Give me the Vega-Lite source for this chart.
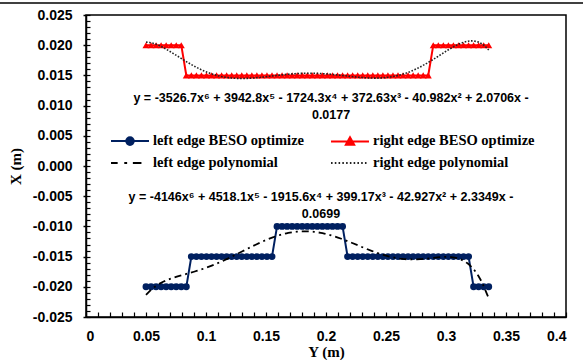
{
  "$schema": "https://vega.github.io/schema/vega-lite/v6.json",
  "autosize": "none",
  "width": 480,
  "height": 302,
  "padding": {"left": 86, "top": 15, "right": 17, "bottom": 43},
  "background": "white",
  "config": {
    "view": {"stroke": "black", "strokeWidth": 1.5},
    "locale": {"number": {"decimal": ".", "thousands": ",", "grouping": [3], "currency": ["$", ""], "minus": "-"}}
  },
  "datasets": {
    "edges": [
      {"Y": 0.05, "left": -0.02, "right": 0.02},
      {"Y": 0.0542, "left": -0.02, "right": 0.02},
      {"Y": 0.0584, "left": -0.02, "right": 0.02},
      {"Y": 0.0626, "left": -0.02, "right": 0.02},
      {"Y": 0.0668, "left": -0.02, "right": 0.02},
      {"Y": 0.071, "left": -0.02, "right": 0.02},
      {"Y": 0.0752, "left": -0.02, "right": 0.02},
      {"Y": 0.0794, "left": -0.02, "right": 0.02},
      {"Y": 0.0836, "left": -0.02, "right": 0.015},
      {"Y": 0.0878, "left": -0.015, "right": 0.015},
      {"Y": 0.092, "left": -0.015, "right": 0.015},
      {"Y": 0.0962, "left": -0.015, "right": 0.015},
      {"Y": 0.1004, "left": -0.015, "right": 0.015},
      {"Y": 0.1046, "left": -0.015, "right": 0.015},
      {"Y": 0.1088, "left": -0.015, "right": 0.015},
      {"Y": 0.113, "left": -0.015, "right": 0.015},
      {"Y": 0.1172, "left": -0.015, "right": 0.015},
      {"Y": 0.1214, "left": -0.015, "right": 0.015},
      {"Y": 0.1256, "left": -0.015, "right": 0.015},
      {"Y": 0.1298, "left": -0.015, "right": 0.015},
      {"Y": 0.134, "left": -0.015, "right": 0.015},
      {"Y": 0.1382, "left": -0.015, "right": 0.015},
      {"Y": 0.1424, "left": -0.015, "right": 0.015},
      {"Y": 0.1466, "left": -0.015, "right": 0.015},
      {"Y": 0.1508, "left": -0.015, "right": 0.015},
      {"Y": 0.155, "left": -0.015, "right": 0.015},
      {"Y": 0.1592, "left": -0.01, "right": 0.015},
      {"Y": 0.1634, "left": -0.01, "right": 0.015},
      {"Y": 0.1676, "left": -0.01, "right": 0.015},
      {"Y": 0.1718, "left": -0.01, "right": 0.015},
      {"Y": 0.176, "left": -0.01, "right": 0.015},
      {"Y": 0.1802, "left": -0.01, "right": 0.015},
      {"Y": 0.1844, "left": -0.01, "right": 0.015},
      {"Y": 0.1886, "left": -0.01, "right": 0.015},
      {"Y": 0.1928, "left": -0.01, "right": 0.015},
      {"Y": 0.197, "left": -0.01, "right": 0.015},
      {"Y": 0.2012, "left": -0.01, "right": 0.015},
      {"Y": 0.2054, "left": -0.01, "right": 0.015},
      {"Y": 0.2096, "left": -0.01, "right": 0.015},
      {"Y": 0.2138, "left": -0.01, "right": 0.015},
      {"Y": 0.218, "left": -0.015, "right": 0.015},
      {"Y": 0.2222, "left": -0.015, "right": 0.015},
      {"Y": 0.2264, "left": -0.015, "right": 0.015},
      {"Y": 0.2306, "left": -0.015, "right": 0.015},
      {"Y": 0.2348, "left": -0.015, "right": 0.015},
      {"Y": 0.239, "left": -0.015, "right": 0.015},
      {"Y": 0.2432, "left": -0.015, "right": 0.015},
      {"Y": 0.2474, "left": -0.015, "right": 0.015},
      {"Y": 0.2516, "left": -0.015, "right": 0.015},
      {"Y": 0.2558, "left": -0.015, "right": 0.015},
      {"Y": 0.26, "left": -0.015, "right": 0.015},
      {"Y": 0.2642, "left": -0.015, "right": 0.015},
      {"Y": 0.2684, "left": -0.015, "right": 0.015},
      {"Y": 0.2726, "left": -0.015, "right": 0.015},
      {"Y": 0.2768, "left": -0.015, "right": 0.015},
      {"Y": 0.281, "left": -0.015, "right": 0.015},
      {"Y": 0.2852, "left": -0.015, "right": 0.015},
      {"Y": 0.2894, "left": -0.015, "right": 0.02},
      {"Y": 0.2936, "left": -0.015, "right": 0.02},
      {"Y": 0.2978, "left": -0.015, "right": 0.02},
      {"Y": 0.302, "left": -0.015, "right": 0.02},
      {"Y": 0.3062, "left": -0.015, "right": 0.02},
      {"Y": 0.3104, "left": -0.015, "right": 0.02},
      {"Y": 0.3146, "left": -0.015, "right": 0.02},
      {"Y": 0.3188, "left": -0.015, "right": 0.02},
      {"Y": 0.323, "left": -0.02, "right": 0.02},
      {"Y": 0.3272, "left": -0.02, "right": 0.02},
      {"Y": 0.3314, "left": -0.02, "right": 0.02},
      {"Y": 0.3356, "left": -0.02, "right": 0.02}
    ],
    "legend": [
      {"series": "left edge BESO optimize"},
      {"series": "left edge polynomial"},
      {"series": "right edge BESO optimize"},
      {"series": "right edge polynomial"}
    ]
  },
  "resolve": {"axis": {"x": "independent", "y": "independent"}},
  "layer": [
    {
      "data": {"name": "edges"},
      "mark": {"type": "line", "color": "#002060", "strokeWidth": 2},
      "encoding": {
        "x": {"field": "Y", "type": "quantitative", "scale": {"domain": [0, 0.4], "nice": false},
          "axis": {"orient": "bottom", "values": [0, 0.05, 0.1, 0.15, 0.2, 0.25, 0.3, 0.35, 0.4], "format": "~f", "ticks": false, "grid": false,
            "domainColor": "black", "domainWidth": 1.5, "labelFont": "Liberation Sans", "labelFontWeight": "bold", "labelFontSize": 14, "labelColor": "black", "labelPadding": 12,
            "title": "Y (m)", "titleFont": "Liberation Serif", "titleFontWeight": "bold", "titleFontSize": 15, "titleColor": "black", "titlePadding": 1}},
        "y": {"field": "left", "type": "quantitative", "scale": {"domain": [-0.025, 0.025], "nice": false},
          "axis": {"orient": "left", "values": [-0.025, -0.02, -0.015, -0.01, -0.005, 0, 0.005, 0.01, 0.015, 0.02, 0.025], "format": ".3f", "tickSize": 3, "tickColor": "black", "tickWidth": 1.5, "grid": false,
            "domainColor": "black", "domainWidth": 1.5, "labelFont": "Liberation Sans", "labelFontWeight": "bold", "labelFontSize": 14, "labelColor": "black", "labelPadding": 11,
            "title": "X (m)", "titleFont": "Liberation Serif", "titleFontWeight": "bold", "titleFontSize": 15, "titleColor": "black", "titlePadding": 9}}
      }
    },
    {
      "data": {"name": "edges"},
      "mark": {"type": "point", "shape": "circle", "filled": true, "color": "#002060", "opacity": 1, "size": 48},
      "encoding": {
        "x": {"field": "Y", "type": "quantitative",
          "axis": {"orient": "bottom", "values": [0, 0.01, 0.02, 0.03, 0.04, 0.05, 0.06, 0.07, 0.08, 0.09, 0.1, 0.11, 0.12, 0.13, 0.14, 0.15, 0.16, 0.17, 0.18, 0.19, 0.2, 0.21, 0.22, 0.23, 0.24, 0.25, 0.26, 0.27, 0.28, 0.29, 0.3, 0.31, 0.32, 0.33, 0.34, 0.35, 0.36, 0.37, 0.38, 0.39, 0.4],
            "labels": false, "domain": false, "grid": false, "title": null, "tickSize": -5, "tickColor": "black", "tickWidth": 1.2}},
        "y": {"field": "left", "type": "quantitative",
          "axis": {"orient": "left", "values": [-0.025, -0.024, -0.023, -0.022, -0.021, -0.02, -0.019, -0.018, -0.017, -0.016, -0.015, -0.014, -0.013, -0.012, -0.011, -0.01, -0.009, -0.008, -0.007, -0.006, -0.005, -0.004, -0.003, -0.002, -0.001, 0, 0.001, 0.002, 0.003, 0.004, 0.005, 0.006, 0.007, 0.008, 0.009, 0.01, 0.011, 0.012, 0.013, 0.014, 0.015, 0.016, 0.017, 0.018, 0.019, 0.02, 0.021, 0.022, 0.023, 0.024, 0.025],
            "labels": false, "domain": false, "grid": false, "title": null, "tickSize": -4, "tickColor": "black", "tickWidth": 1.2}}
      }
    },
    {
      "data": {"name": "edges"},
      "mark": {"type": "line", "color": "#FF0000", "strokeWidth": 2},
      "encoding": {
        "x": {"field": "Y", "type": "quantitative", "axis": null},
        "y": {"field": "right", "type": "quantitative", "axis": null}
      }
    },
    {
      "data": {"name": "edges"},
      "mark": {"type": "point", "shape": "triangle-up", "filled": true, "color": "#FF0000", "opacity": 1, "size": 50},
      "encoding": {
        "x": {"field": "Y", "type": "quantitative", "axis": null},
        "y": {"field": "right", "type": "quantitative", "axis": null}
      }
    },
    {
      "data": {"name": "edges"},
      "transform": [{"regression": "left", "on": "Y", "method": "poly", "order": 6}],
      "mark": {"type": "line", "color": "black", "strokeWidth": 1.8, "strokeDash": [7, 4, 2, 4]},
      "encoding": {
        "x": {"field": "Y", "type": "quantitative", "axis": null},
        "y": {"field": "left", "type": "quantitative", "axis": null}
      }
    },
    {
      "data": {"name": "edges"},
      "transform": [{"regression": "right", "on": "Y", "method": "poly", "order": 6}],
      "mark": {"type": "line", "color": "#222222", "strokeWidth": 1.6, "strokeDash": [1.6, 1.6]},
      "encoding": {
        "x": {"field": "Y", "type": "quantitative", "axis": null},
        "y": {"field": "right", "type": "quantitative", "axis": null}
      }
    },
    {
      "data": {"values": [{}]},
      "mark": {"type": "text", "text": ["y = -3526.7x⁶ + 3942.8x⁵ - 1724.3x⁴ + 372.63x³ - 40.982x² + 2.0706x -", "0.0177"],
        "font": "Liberation Sans", "fontWeight": "bold", "fontSize": 12.5, "color": "black", "align": "center", "baseline": "middle", "lineHeight": 17},
      "encoding": {
        "x": {"datum": 0.2042, "type": "quantitative", "axis": null},
        "y": {"datum": 0.0112, "type": "quantitative", "axis": null}
      }
    },
    {
      "data": {"values": [{}]},
      "mark": {"type": "text", "text": ["y = -4146x⁶ + 4518.1x⁵ - 1915.6x⁴ + 399.17x³ - 42.927x² + 2.3349x -", "0.0699"],
        "font": "Liberation Sans", "fontWeight": "bold", "fontSize": 12.5, "color": "black", "align": "center", "baseline": "middle", "lineHeight": 17},
      "encoding": {
        "x": {"datum": 0.1958, "type": "quantitative", "axis": null},
        "y": {"datum": -0.00514, "type": "quantitative", "axis": null}
      }
    },
    {
      "data": {"values": [{}]},
      "mark": {"type": "rule", "color": "black", "strokeWidth": 1.5, "clip": false},
      "encoding": {
        "x": {"datum": -0.0717, "type": "quantitative", "axis": null},
        "x2": {"datum": 0.4142},
        "y": {"datum": 0.027, "type": "quantitative", "axis": null}
      }
    },
    {
      "data": {"name": "legend"},
      "mark": {"type": "point", "filled": true, "opacity": 0},
      "encoding": {
        "color": {"field": "series", "type": "nominal",
          "scale": {"domain": ["left edge BESO optimize", "left edge polynomial", "right edge BESO optimize", "right edge polynomial"],
            "range": ["#002060", "#000000", "#FF0000", "#222222"]},
          "legend": {"orient": "none", "legendX": 30, "legendY": 112, "columns": 2, "title": null,
            "symbolSize": 676, "symbolOpacity": 1, "symbolStrokeWidth": 2, "labelOffset": 9, "columnPadding": 22, "rowPadding": 0,
            "labelFont": "Liberation Serif", "labelFontWeight": "bold", "labelFontSize": 14.5, "labelColor": "black", "labelLimit": 300,
            "encode": {"symbols": {"update": {"fill": {"scale": "color", "field": "value"}, "stroke": {"scale": "color", "field": "value"}, "opacity": {"value": 1}, "strokeWidth": {"value": 2}}}}}},
        "shape": {"field": "series", "type": "nominal",
          "scale": {"domain": ["left edge BESO optimize", "left edge polynomial", "right edge BESO optimize", "right edge polynomial"],
            "range": ["M-1.46,0H1.46M-0.29,0A0.29,0.29,0,1,1,0.29,0A0.29,0.29,0,1,1,-0.29,0Z", "M-1.46,0H-0.95M-0.44,0H-0.22M0.22,0H0.88", "M-1.46,0H1.46M-0.32,0.25L0,-0.32L0.32,0.25Z", "M-1.46,0h0.12M-1.17,0h0.12M-0.88,0h0.12M-0.59,0h0.12M-0.3,0h0.12M-0.01,0h0.12M0.28,0h0.12M0.57,0h0.12M0.86,0h0.12M1.15,0h0.12"]},
          "legend": {"orient": "none", "legendX": 30, "legendY": 112, "columns": 2, "title": null,
            "symbolSize": 676, "symbolOpacity": 1, "symbolStrokeWidth": 2, "labelOffset": 9, "columnPadding": 22, "rowPadding": 0,
            "labelFont": "Liberation Serif", "labelFontWeight": "bold", "labelFontSize": 14.5, "labelColor": "black", "labelLimit": 300,
            "encode": {"symbols": {"update": {"fill": {"scale": "color", "field": "value"}, "stroke": {"scale": "color", "field": "value"}, "opacity": {"value": 1}, "strokeWidth": {"value": 2}}}}}}
      }
    }
  ]
}
